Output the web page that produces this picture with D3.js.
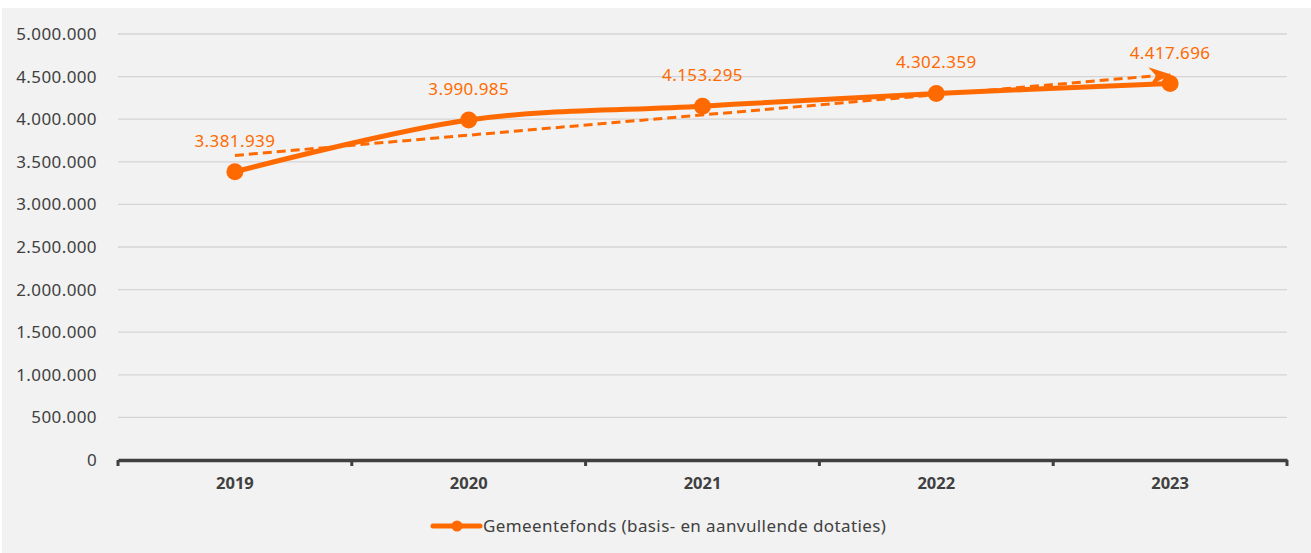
<!DOCTYPE html>
<html>
<head>
<meta charset="utf-8">
<script src="https://cdn.jsdelivr.net/npm/d3@7"></script>
<style>
  body { margin: 0; background: #fff; }
  svg { display: block; }
</style>
</head>
<body>
<div id="chart"></div>
<script>
let width = 1311;
let height = 553;
let margin = { top: 34, bottom: 93, left: 118, right: 24 };

// data
const years = ["2019", "2020", "2021", "2022", "2023"];
const values = [3381939, 3990985, 4153295, 4302359, 4417696];
const labels = ["3.381.939", "3.990.985", "4.153.295", "4.302.359", "4.417.696"];
const trendEnds = [3575000, 4525000]; // dashed trendline, first and last year
const yTicks = [0, 500000, 1000000, 1500000, 2000000, 2500000, 3000000, 3500000, 4000000, 4500000, 5000000];
const seriesName = "Gemeentefonds (basis- en aanvullende dotaties)";

const orange = "#ff6a00";
const textColor = "#404040";
const fontFam = "'Noto Sans', 'Open Sans', sans-serif";

let svg = d3
  .select("#chart")
  .append("svg")
  .attr("width", width)
  .attr("height", height);

svg.append("rect")
  .attr("x", 2)
  .attr("y", 8)
  .attr("width", width - 2)
  .attr("height", height - 8)
  .attr("fill", "#f2f2f2");

let x = d3.scaleBand().domain(years).range([margin.left, width - margin.right]);
let y = d3.scaleLinear().domain([0, 5000000]).range([height - margin.bottom, margin.top]);

const fmt = (v) => d3.format(",")(v).replace(/,/g, ".");

// gridlines
svg.append("g")
  .selectAll("line")
  .data(yTicks.filter((t) => t > 0))
  .enter()
  .append("line")
  .attr("x1", margin.left)
  .attr("x2", width - margin.right)
  .attr("y1", (d) => y(d))
  .attr("y2", (d) => y(d))
  .attr("stroke", "#d4d4d4")
  .attr("stroke-width", 1.3);

// y axis labels
let yAxis = svg.append("g")
  .attr("transform", `translate(${margin.left},0)`)
  .call(d3.axisLeft(y).tickValues(yTicks).tickFormat(fmt).tickSize(0).tickPadding(21));
yAxis.select(".domain").remove();
yAxis.selectAll("text")
  .attr("fill", textColor)
  .style("font-family", fontFam)
  .style("font-size", "17px")
  .style("letter-spacing", "0.4px");

// x axis
let xAxis = svg.append("g")
  .attr("transform", `translate(0,${y(0)})`)
  .call(d3.axisBottom(x).tickSize(0).tickPadding(17));
xAxis.select(".domain").attr("stroke", textColor).attr("stroke-width", 3.5);
xAxis.selectAll("text")
  .attr("fill", textColor)
  .style("font-family", fontFam)
  .style("font-size", "16.5px")
  .style("font-weight", "bold");

// band boundary ticks
let bounds = years.map((d) => x(d)).concat([x(years[years.length - 1]) + x.bandwidth()]);
svg.append("g")
  .selectAll("line")
  .data(bounds)
  .enter()
  .append("line")
  .attr("x1", (d) => d)
  .attr("x2", (d) => d)
  .attr("y1", y(0))
  .attr("y2", y(0) + 6)
  .attr("stroke", textColor)
  .attr("stroke-width", 3);

const cx = (i) => x(years[i]) + x.bandwidth() / 2;

// arrow marker for trendline
svg.append("defs")
  .append("marker")
  .attr("id", "arrow")
  .attr("viewBox", "0 0 22 18")
  .attr("refX", 21)
  .attr("refY", 9)
  .attr("markerWidth", 22)
  .attr("markerHeight", 18)
  .attr("markerUnits", "userSpaceOnUse")
  .attr("orient", "auto")
  .append("path")
  .attr("d", "M0,0 L22,9 L0,18 L7,9 Z")
  .attr("fill", orange);

// series line (smoothed)
let line = d3.line()
  .x((d, i) => cx(i))
  .y((d) => y(d))
  .curve(d3.curveCardinal.tension(0));

svg.append("path")
  .datum(values)
  .attr("d", line)
  .attr("fill", "none")
  .attr("stroke", orange)
  .attr("stroke-width", 5)
  .attr("stroke-linecap", "round");

// trendline
svg.append("line")
  .attr("x1", cx(0))
  .attr("y1", y(trendEnds[0]))
  .attr("x2", cx(years.length - 1))
  .attr("y2", y(trendEnds[1]))
  .attr("stroke", orange)
  .attr("stroke-width", 3)
  .attr("stroke-dasharray", "9,5")
  .attr("marker-end", "url(#arrow)");

// markers
svg.append("g")
  .selectAll("circle")
  .data(values)
  .enter()
  .append("circle")
  .attr("cx", (d, i) => cx(i))
  .attr("cy", (d) => y(d))
  .attr("r", 8.5)
  .attr("fill", orange);

// data labels
svg.append("g")
  .selectAll("text")
  .data(values)
  .enter()
  .append("text")
  .attr("x", (d, i) => cx(i))
  .attr("y", (d) => y(d) - 25)
  .attr("text-anchor", "middle")
  .attr("fill", orange)
  .style("font-family", fontFam)
  .style("font-size", "17px")
  .style("letter-spacing", "0.4px")
  .text((d, i) => labels[i]);

// legend
let legend = svg.append("g").attr("transform", "translate(433,526)");
legend.append("line")
  .attr("x1", 0)
  .attr("x2", 47)
  .attr("stroke", orange)
  .attr("stroke-width", 5)
  .attr("stroke-linecap", "round");
legend.append("circle")
  .attr("cx", 24)
  .attr("r", 5.5)
  .attr("fill", orange);
legend.append("text")
  .attr("x", 50)
  .attr("dy", "0.35em")
  .attr("fill", textColor)
  .style("font-family", fontFam)
  .style("font-size", "17px")
  .style("letter-spacing", "0.4px")
  .text(seriesName);
</script>
</body>
</html>
